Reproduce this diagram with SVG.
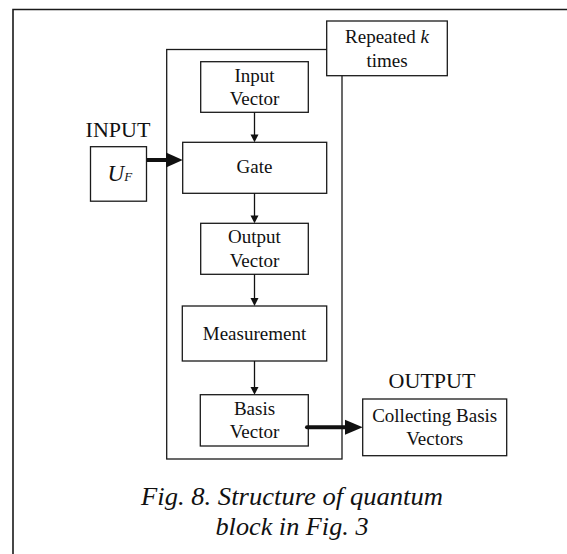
<svg xmlns="http://www.w3.org/2000/svg" width="567" height="554" viewBox="0 0 567 554">
  <style>
    .box { fill: #ffffff; stroke: #1a1a1a; stroke-width: 1.3; }
    .frame { fill: none; stroke: #1a1a1a; stroke-width: 1.6; }
    .lbl { font-family: "Liberation Serif", "Times New Roman", serif; font-size: 19px; fill: #111; text-anchor: middle; }
    .head { font-family: "Liberation Serif", "Times New Roman", serif; font-size: 22px; fill: #111; text-anchor: middle; }
    .cap { font-family: "Liberation Serif", "Times New Roman", serif; font-size: 25.5px; font-style: italic; fill: #111; text-anchor: middle; }
    .thin { stroke: #111; stroke-width: 1.3; fill: none; }
    .thick { stroke: #111; stroke-width: 4; fill: none; stroke-linecap: round; }
    .tip { fill: #111; }
  </style>

  <!-- page frame (top and left edges) -->
  <path class="frame" d="M13,554 V9.5 H567"/>

  <!-- loop container -->
  <g id="loop">
    <rect class="frame" x="166.7" y="49.5" width="175.3" height="409.5" style="stroke-width:1.3"/>
  </g>

  <g id="repeat">
    <rect class="box" x="326.7" y="21" width="120.6" height="54.7"/>
    <text class="lbl" x="387" y="43.3">Repeated <tspan font-style="italic">k</tspan></text>
    <text class="lbl" x="387" y="66.7">times</text>
  </g>

  <g id="input-vector">
    <rect class="box" x="200.7" y="61.7" width="107.6" height="50.6"/>
    <text class="lbl" x="254.5" y="81.7">Input</text>
    <text class="lbl" x="254.5" y="105">Vector</text>
  </g>

  <g id="gate">
    <rect class="box" x="182.7" y="142.3" width="144" height="51"/>
    <text class="lbl" x="254.5" y="173.3">Gate</text>
  </g>

  <g id="output-vector">
    <rect class="box" x="200.7" y="223.3" width="107.6" height="51"/>
    <text class="lbl" x="254.5" y="243.3">Output</text>
    <text class="lbl" x="254.5" y="266.7">Vector</text>
  </g>

  <g id="measurement">
    <rect class="box" x="182.3" y="306" width="144.4" height="55"/>
    <text class="lbl" x="254.5" y="340">Measurement</text>
  </g>

  <g id="basis-vector">
    <rect class="box" x="200.3" y="394.7" width="108" height="51.3"/>
    <text class="lbl" x="254.5" y="415">Basis</text>
    <text class="lbl" x="254.5" y="438.3">Vector</text>
  </g>

  <g id="input">
    <text class="head" x="118" y="136.7">INPUT</text>
    <rect class="box" x="90.5" y="146.7" width="56" height="54.5"/>
    <text x="107.5" y="180.7" font-family="Liberation Serif, Times New Roman, serif" font-style="italic" font-size="23" fill="#111">U<tspan font-size="13">F</tspan></text>
  </g>

  <g id="output">
    <text class="head" x="432" y="388.3">OUTPUT</text>
    <rect class="box" x="362.7" y="399" width="144" height="56.7"/>
    <text class="lbl" x="434.7" y="421.7">Collecting Basis</text>
    <text class="lbl" x="434.7" y="445">Vectors</text>
  </g>

  <g id="connectors">
    <line class="thin" x1="254.5" y1="112.3" x2="254.5" y2="135"/>
    <polygon class="tip" points="250.5,134.5 258.5,134.5 254.5,142.3"/>
    <line class="thin" x1="254.5" y1="193.3" x2="254.5" y2="216"/>
    <polygon class="tip" points="250.5,215.5 258.5,215.5 254.5,223.3"/>
    <line class="thin" x1="254.5" y1="274.3" x2="254.5" y2="298.5"/>
    <polygon class="tip" points="250.5,298 258.5,298 254.5,306"/>
    <line class="thin" x1="254.5" y1="361" x2="254.5" y2="387.5"/>
    <polygon class="tip" points="250.5,387 258.5,387 254.5,394.7"/>

    <line class="thick" x1="147" y1="160" x2="167" y2="160" style="stroke-linecap:butt"/>
    <polygon class="tip" points="166,152.5 182.7,160 166,167.5"/>
    <line class="thick" x1="307" y1="427.3" x2="346" y2="427.3"/>
    <polygon class="tip" points="345,419.8 362.7,427.3 345,434.8"/>
  </g>

  <g id="caption">
    <text class="cap" x="292" y="505" textLength="302" lengthAdjust="spacingAndGlyphs">Fig. 8. Structure of quantum</text>
    <text class="cap" x="292" y="535" textLength="153" lengthAdjust="spacingAndGlyphs">block in Fig. 3</text>
  </g>
</svg>
